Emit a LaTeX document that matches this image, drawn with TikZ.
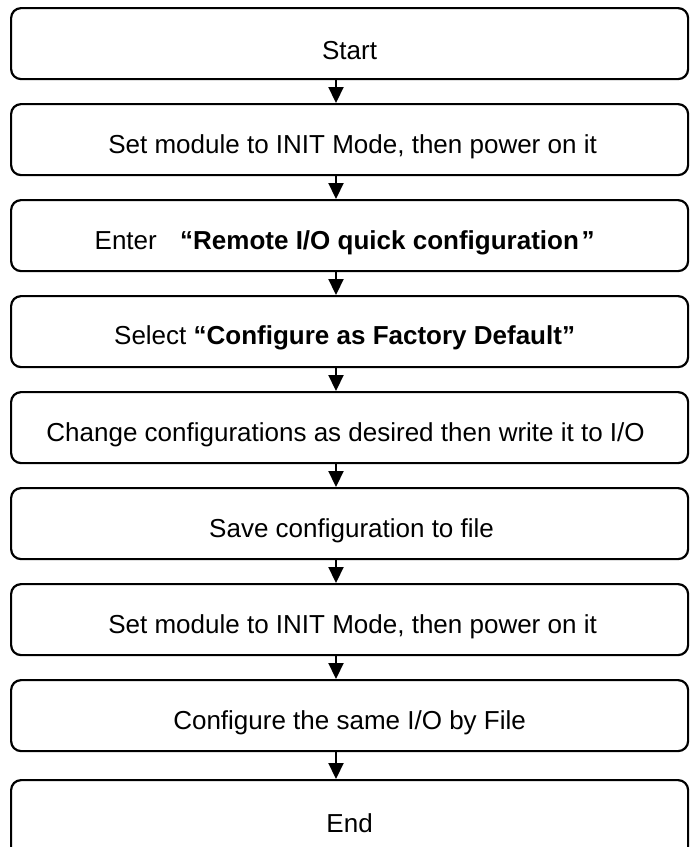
\documentclass[tikz,border=0pt]{standalone}
\usepackage{fontspec}
\setmainfont{Liberation Sans}
\usetikzlibrary{arrows.meta}
\begin{document}
\begin{tikzpicture}[x=1pt,y=-1pt,
  stepbox/.style={draw,line width=2.2pt,rounded corners=10pt,minimum width=677pt,minimum height=71pt,inner sep=0pt,anchor=north west},
  steptext/.style={font=\fontsize{26}{30}\selectfont,inner sep=0pt},
  flow/.style={line width=2.2pt,-{Triangle[width=15pt,length=16pt]}}]
\useasboundingbox (0,0) rectangle (691,847);
\coordinate (ax) at (336,0);
\foreach \i/\t in {1/7,2/103,3/199,4/295,5/391,6/487,7/583,8/679}{
  \node[stepbox] (b\i) at (10,\t) {};
}
\node[stepbox,minimum height=80pt] (b9) at (10,779) {};
\node[steptext] (t1) at ([yshift=-7pt]b1.center) {Start};
\node[steptext] (t2) at ([yshift=-7pt,xshift=3pt]b2.center) {Set module to INIT Mode, then power on it};
\node[steptext] (t3) at ([yshift=-7pt,xshift=-5pt]b3.center) {Enter\hspace{0.9em}\textbf{“Remote I/O quick configuration}\hspace{0.1em}\textbf{”}};
\node[steptext] (t4) at ([yshift=-6pt,xshift=-5pt]b4.center) {Select \textbf{“Configure as Factory Default”}};
\node[steptext] (t5) at ([yshift=-7pt,xshift=-4pt]b5.center) {Change configurations as desired then write it to I/O};
\node[steptext] (t6) at ([yshift=-7pt,xshift=2pt]b6.center) {Save configuration to file};
\node[steptext] (t7) at ([yshift=-7pt,xshift=3pt]b7.center) {Set module to INIT Mode, then power on it};
\node[steptext] (t8) at ([yshift=-7pt]b8.center) {Configure the same I/O by File};
\node[steptext] (t9) at (b8.center |- 0,823) {End};
\foreach \a/\b in {1/2,2/3,3/4,4/5,5/6,6/7,7/8,8/9}{
  \draw[flow] (b\a.south -| ax) -- (b\b.north -| ax);
}
\end{tikzpicture}
\end{document}
